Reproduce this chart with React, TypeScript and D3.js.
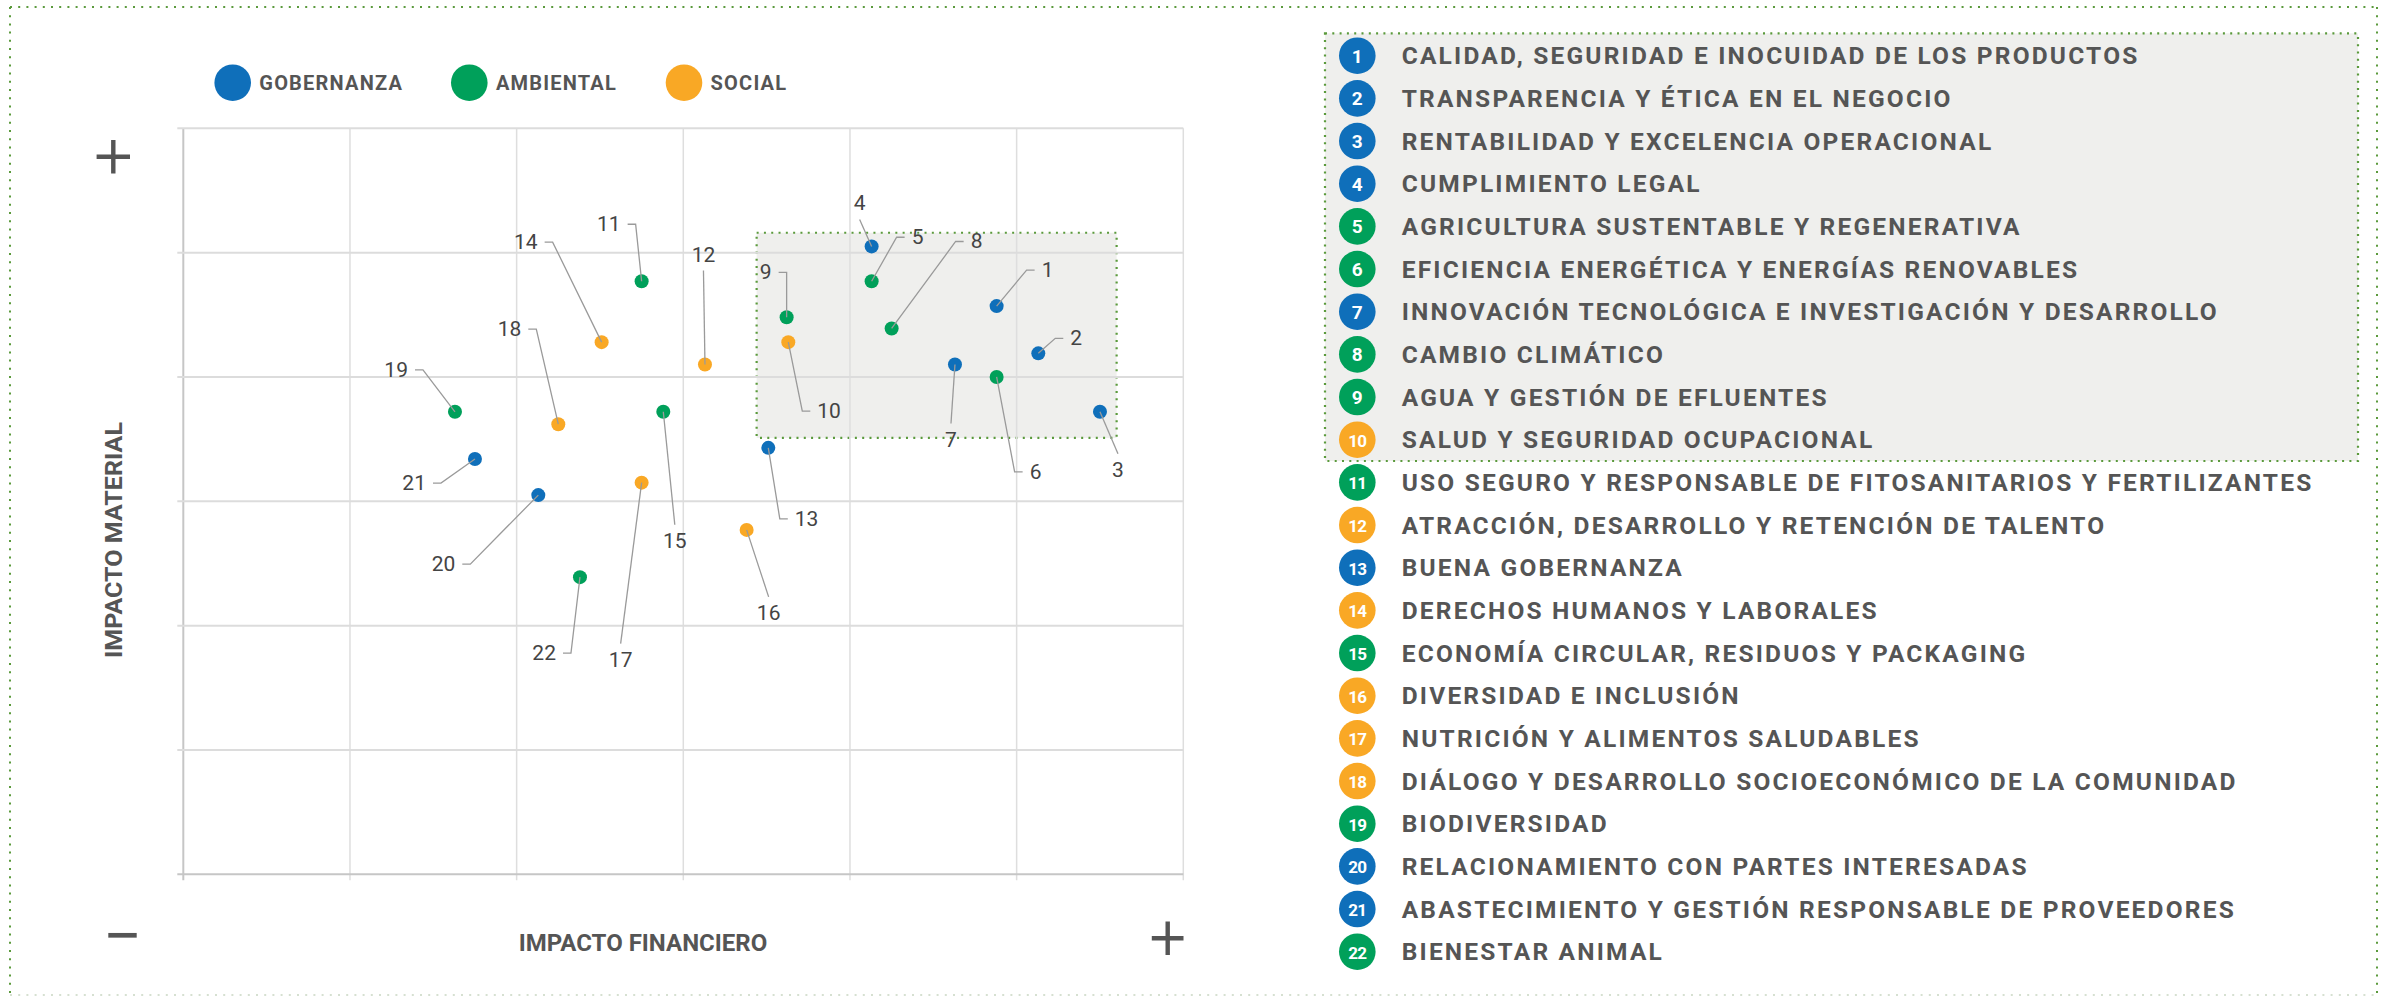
import React from 'react';
import * as d3 from 'd3';

// categories and colours
const categories = ['GOBERNANZA', 'AMBIENTAL', 'SOCIAL'];
const categoryColors = ['#0f6fba', '#00a05a', '#f9a825'];

// material topics
const topicIds = [1, 2, 3, 4, 5, 6, 7, 8, 9, 10, 11, 12, 13, 14, 15, 16, 17, 18, 19, 20, 21, 22];
const topicCategory = [
  'GOBERNANZA', 'GOBERNANZA', 'GOBERNANZA', 'GOBERNANZA', 'AMBIENTAL', 'AMBIENTAL',
  'GOBERNANZA', 'AMBIENTAL', 'AMBIENTAL', 'SOCIAL', 'AMBIENTAL', 'SOCIAL',
  'GOBERNANZA', 'SOCIAL', 'AMBIENTAL', 'SOCIAL', 'SOCIAL', 'SOCIAL',
  'AMBIENTAL', 'GOBERNANZA', 'GOBERNANZA', 'AMBIENTAL'
];
const topicNames = [
  'CALIDAD, SEGURIDAD E INOCUIDAD DE LOS PRODUCTOS',
  'TRANSPARENCIA Y ÉTICA EN EL NEGOCIO',
  'RENTABILIDAD Y EXCELENCIA OPERACIONAL',
  'CUMPLIMIENTO LEGAL',
  'AGRICULTURA SUSTENTABLE Y REGENERATIVA',
  'EFICIENCIA ENERGÉTICA Y ENERGÍAS RENOVABLES',
  'INNOVACIÓN TECNOLÓGICA E INVESTIGACIÓN Y DESARROLLO',
  'CAMBIO CLIMÁTICO',
  'AGUA Y GESTIÓN DE EFLUENTES',
  'SALUD Y SEGURIDAD OCUPACIONAL',
  'USO SEGURO Y RESPONSABLE DE FITOSANITARIOS Y FERTILIZANTES',
  'ATRACCIÓN, DESARROLLO Y RETENCIÓN DE TALENTO',
  'BUENA GOBERNANZA',
  'DERECHOS HUMANOS Y LABORALES',
  'ECONOMÍA CIRCULAR, RESIDUOS Y PACKAGING',
  'DIVERSIDAD E INCLUSIÓN',
  'NUTRICIÓN Y ALIMENTOS SALUDABLES',
  'DIÁLOGO Y DESARROLLO SOCIOECONÓMICO DE LA COMUNIDAD',
  'BIODIVERSIDAD',
  'RELACIONAMIENTO CON PARTES INTERESADAS',
  'ABASTECIMIENTO Y GESTIÓN RESPONSABLE DE PROVEEDORES',
  'BIENESTAR ANIMAL'
];
const financialImpact = [4.88, 5.13, 5.5, 4.13, 4.13, 4.88, 4.63, 4.25, 3.62, 3.63, 2.75, 3.13, 3.51, 2.51, 2.88, 3.38, 2.75, 2.25, 1.63, 2.13, 1.75, 2.38];
const materialImpact = [4.57, 4.19, 3.72, 5.05, 4.77, 4.0, 4.1, 4.39, 4.48, 4.28, 4.77, 4.1, 3.43, 4.28, 3.72, 2.77, 3.15, 3.62, 3.72, 3.05, 3.34, 2.39];

// priority zone
const zoneX = [3.44, 5.6];
const zoneY = [3.51, 5.16];

// label leader layout: kind, dx, dy (px from the point)
const labelLayout: [string, number, number][] = [
  ['R', 30, -36], ['R', 17, -15], ['B', 18, 42], ['T', -12, -27], ['R', 25, -44],
  ['R', 18, 95], ['B', -4, 59], ['R', 64, -87], ['L', 0, -45], ['R', 14, 69],
  ['L', -6, -57], ['T', -1.5, -94], ['R', 11.5, 71], ['L', -49, -100], ['B', 11.5, 113],
  ['B', 22, 67], ['B', -21, 161], ['L', -22, -95], ['L', -32, -42], ['L', -68, 69],
  ['L', -34, 24], ['L', -9, 76]
];

const W = 2384;
const H = 996;
const FONT = 'Roboto, "Open Sans", sans-serif';
const TEXT = '#555555';
const BORDER = '#5b9a3c';

export default function App() {
  const x = d3.scaleLinear().domain([0, 6]).range([183.3, 1183.3]);
  const y = d3.scaleLinear().domain([0, 6]).range([874.3, 128.3]);
  const color = d3.scaleOrdinal<string, string>().domain(categories).range(categoryColors);
  const rowY = d3.scalePoint<number>().domain(topicIds).range([55.7, 951.7]);

  const xTicks = x.ticks(6);
  const yTicks = y.ticks(6);
  const [x0, x1] = x.range();
  const [y0, y1] = y.range();

  const legendX = [232.7, 469.3, 684];

  const leaders = topicIds.map((id, i) => {
    const px = x(financialImpact[i]);
    const py = y(materialImpact[i]);
    const [kind, dx, dy] = labelLayout[i];
    const cx = px + dx;
    const cy = py + dy;
    let path = `M${px},${py}L${cx},${cy}`;
    let tx = cx, ty = cy, anchor = 'middle';
    if (kind === 'L') {
      path += `L${cx - 8},${cy}`;
      tx = cx - 15; ty = cy + 7; anchor = 'end';
    } else if (kind === 'R') {
      path += `L${cx + 8},${cy}`;
      tx = cx + 15; ty = cy + 7; anchor = 'start';
    } else if (kind === 'B') {
      ty = cy + 23;
    } else {
      ty = cy - 9;
    }
    return { id, path, tx, ty, anchor };
  });

  const boxTop = 33.3;
  const boxBottom = 461;

  return (
    <svg width={W} height={H} style={{ position: 'absolute', left: 0, top: 0, background: '#fff' }}
         fontFamily={FONT}>
      {/* outer frame */}
      <line x1={10} x2={2377} y1={7} y2={7} stroke={BORDER} strokeWidth={2} strokeDasharray="2 6.2" />
      <line x1={10} x2={10} y1={7} y2={995} stroke={BORDER} strokeWidth={2} strokeDasharray="2 6.2" />
      <line x1={2377} x2={2377} y1={7} y2={995} stroke={BORDER} strokeWidth={2} strokeDasharray="2 6.2" />
      <line x1={10} x2={2377} y1={995} y2={995} stroke="#c9d6c2" strokeWidth={1.5} strokeDasharray="2 6.2" />

      {/* category legend */}
      {categories.map((c, i) => (
        <g key={c}>
          <circle cx={legendX[i]} cy={82.7} r={18.3} fill={color(c)} />
          <text x={legendX[i] + 26.6} y={89.8} fontSize={20} fontWeight={700} letterSpacing={1.2} fill={TEXT}>{c}</text>
        </g>
      ))}

      {/* priority zone */}
      <rect x={x(zoneX[0])} y={y(zoneY[1])} width={x(zoneX[1]) - x(zoneX[0])} height={y(zoneY[0]) - y(zoneY[1])}
            fill="#efefed" stroke={BORDER} strokeWidth={2.2} strokeDasharray="2 5.3" />

      {/* grid */}
      {xTicks.map(t => (
        <line key={'vx' + t} x1={x(t)} x2={x(t)} y1={y1} y2={y0 + 6}
              stroke={t === 0 ? '#c6c6c6' : '#dedede'} strokeWidth={t === 0 ? 2 : 1.5} />
      ))}
      {yTicks.map(t => (
        <line key={'hy' + t} x1={x0 - 6} x2={x1} y1={y(t)} y2={y(t)}
              stroke={t === 0 ? '#c6c6c6' : '#dcdcdc'} strokeWidth={2} />
      ))}

      {/* points */}
      {topicIds.map((id, i) => (
        <circle key={'p' + id} cx={x(financialImpact[i])} cy={y(materialImpact[i])} r={7}
                fill={color(topicCategory[i])} />
      ))}

      {/* leaders and labels */}
      {leaders.map(l => (
        <g key={'l' + l.id}>
          <path d={l.path} fill="none" stroke="#9a9a9a" strokeWidth={1.3} />
          <text x={l.tx} y={l.ty} fontSize={21} fill="#444" textAnchor={l.anchor}>{l.id}</text>
        </g>
      ))}

      {/* axis signs and titles */}
      <path d="M96.6,156.7H130M113.3,140V173.4" stroke={TEXT} strokeWidth={4.4} />
      <path d="M108.3,935.3H136.7" stroke={TEXT} strokeWidth={4.7} />
      <path d="M1151.8,938.3H1183.5M1167.7,921.6V955" stroke={TEXT} strokeWidth={4.4} />
      <text x={643} y={950.7} fontSize={24} fontWeight={700} fill={TEXT} textAnchor="middle">IMPACTO FINANCIERO</text>
      <text transform="translate(121.7,540) rotate(-90)" fontSize={24} fontWeight={700} fill={TEXT}
            textAnchor="middle" textLength={236} lengthAdjust="spacingAndGlyphs">IMPACTO MATERIAL</text>

      {/* topic list */}
      <rect x={1325} y={boxTop} width={2358 - 1325} height={boxBottom - boxTop} fill="#efefed"
            stroke={BORDER} strokeWidth={2.2} strokeDasharray="2 5.3" />
      {topicIds.map((id, i) => (
        <g key={'t' + id} transform={`translate(0,${rowY(id)})`}>
          <circle cx={1357.3} cy={0} r={18.3} fill={color(topicCategory[i])} />
          <text x={1357.3} y={6.8} fontSize={id > 9 ? 17 : 19} fontWeight={700} fill="#fff" textAnchor="middle"
                letterSpacing={id > 9 ? -0.8 : 0}>{id}</text>
          <text x={1401.7} y={8.6} fontSize={24.5} fontWeight={700} letterSpacing={2.2} fill={TEXT}>{topicNames[i]}</text>
        </g>
      ))}
    </svg>
  );
}
